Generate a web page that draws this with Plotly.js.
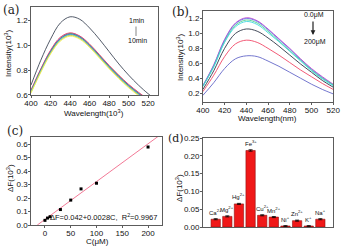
<!DOCTYPE html>
<html><head><meta charset="utf-8">
<script src="https://cdn.plot.ly/plotly-3.0.1.min.js"></script>
<style>html,body{margin:0;padding:0;background:#fff}#c{width:341px;height:246px}</style>
</head><body><div id="c"></div>
<script>
// Panel (a): time series spectra
const wlA = [400,410,420,430,440,450,460,470,480,490,500,510,520,525];
const a1min = [0.68,0.88,1.05,1.18,1.23,1.21,1.14,1.05,0.95,0.85,0.76,0.68,0.61,0.58];
const aCurves = [
  [0.640,0.810,0.960,1.065,1.100,1.075,1.010,0.925,0.838,0.758,0.685,0.622,0.565,0.54],
  [0.635,0.805,0.955,1.060,1.097,1.072,1.006,0.921,0.834,0.754,0.681,0.618,0.561,0.536],
  [0.630,0.800,0.950,1.055,1.093,1.068,1.002,0.917,0.830,0.750,0.677,0.614,0.557,0.532],
  [0.628,0.797,0.946,1.051,1.089,1.064,0.998,0.913,0.826,0.746,0.673,0.610,0.553,0.528],
  [0.625,0.793,0.941,1.046,1.085,1.060,0.994,0.909,0.822,0.742,0.669,0.606,0.549,0.524],
  [0.620,0.788,0.936,1.040,1.080,1.055,0.989,0.904,0.817,0.737,0.664,0.601,0.544,0.519],
  [0.615,0.782,0.930,1.034,1.074,1.049,0.983,0.898,0.811,0.731,0.658,0.595,0.538,0.513]
];
const aColors = ['#e8203a','#d048d0','#30c040','#4848e0','#40d0d0','#c8c840','#f0f060'];

// Panel (b): concentration series spectra
const wlB = [400,410,420,430,440,450,460,470,480,490,500,510,520];
const bCurves = [
  [0.30,0.58,0.92,1.14,1.21,1.17,1.06,0.93,0.80,0.66,0.53,0.42,0.32],
  [0.30,0.57,0.91,1.13,1.20,1.16,1.05,0.92,0.79,0.65,0.52,0.41,0.31],
  [0.29,0.56,0.89,1.11,1.18,1.14,1.03,0.90,0.77,0.64,0.51,0.40,0.31],
  [0.29,0.55,0.88,1.09,1.16,1.12,1.01,0.89,0.76,0.63,0.50,0.39,0.30],
  [0.25,0.50,0.80,1.00,1.06,1.03,0.94,0.83,0.71,0.59,0.48,0.37,0.28],
  [0.22,0.44,0.69,0.86,0.91,0.88,0.80,0.71,0.61,0.51,0.42,0.33,0.25],
  [0.17,0.34,0.53,0.66,0.70,0.69,0.63,0.56,0.48,0.40,0.32,0.25,0.19]
];
const bColors = ['#c040c8','#7070e8','#50d090','#40d8e0','#303848','#f04868','#6468c8'];

// Panel (c): calibration
const cConc = [0,5,10,30,50,70,100,200];
const cDF = [0.035,0.052,0.062,0.115,0.185,0.268,0.31,0.578];
const fitC = [-15,240];
const fitIntercept = 0.042, fitSlope = 0.0028;

// Panel (d): selectivity
const ions = ['Ca<sup>2+</sup>','Mg<sup>2+</sup>','Hg<sup>2+</sup>','Fe<sup>3+</sup>','Cu<sup>2+</sup>','Mn<sup>2+</sup>','Ni<sup>+</sup>','Zn<sup>2+</sup>','K<sup>+</sup>','Na<sup>+</sup>'];
const dDF = [0.022,0.030,0.065,0.215,0.033,0.028,0.003,0.018,0.003,0.022];
const dErr = [0.0015,0.0015,0.0015,0.002,0.0015,0.0015,0.001,0.0015,0.001,0.0015];

const traces = [];
aCurves.forEach((c,i)=>traces.push({x:wlA,y:c,xaxis:'x',yaxis:'y',mode:'lines',line:{color:aColors[i],width:0.9,shape:'spline'}}));
traces.push({x:wlA,y:a1min,xaxis:'x',yaxis:'y',mode:'lines',line:{color:'#404858',width:0.9,shape:'spline'}});
bCurves.forEach((c,i)=>traces.push({x:wlB,y:c,xaxis:'x2',yaxis:'y2',mode:'lines',line:{color:bColors[i],width:0.9,shape:'spline'}}));
traces.push({x:fitC,y:fitC.map(c=>fitIntercept+fitSlope*c),xaxis:'x3',yaxis:'y3',mode:'lines',line:{color:'#f06a8a',width:0.9}});
traces.push({x:cConc,y:cDF,xaxis:'x3',yaxis:'y3',mode:'markers',marker:{color:'#000',size:3,symbol:'square'}});
const idx = ions.map((_,i)=>i);
traces.push({x:idx,y:dDF,xaxis:'x4',yaxis:'y4',type:'bar',width:0.8,marker:{color:'#f01818',line:{color:'#901010',width:0.6}},
  error_y:{type:'data',array:dErr,color:'#000',thickness:0.8,width:2}});

const F = 'Liberation Sans, Arial, sans-serif';
const tf = {family:F,size:8,color:'#111'};
function ax(domain,range,extra){return Object.assign({domain:domain,range:range,showline:true,mirror:true,linecolor:'#333',linewidth:0.8,
  ticks:'outside',ticklen:2,tickwidth:0.8,tickcolor:'#333',ticklabelstandoff:-1,showgrid:false,zeroline:false,tickfont:tf,fixedrange:true},extra||{});}

const ann = [];
function t(x,y,text,opt){ann.push(Object.assign({xref:'paper',yref:'paper',x:x/341,y:1-y/246,text:text,showarrow:false,font:{family:F,size:8,color:'#111'},xanchor:'center',yanchor:'middle'},opt||{}));}
const serif = {family:'DejaVu Serif, Liberation Serif, serif',size:12,color:'#222'};
const small = {family:F,size:7,color:'#111'};
t(11,10,'(a)',{font:serif});
t(180,12,'(b)',{font:serif});
t(15,131,'(c)',{font:serif});
t(176,138,'(d)',{font:{family:'DejaVu Serif, Liberation Serif, serif',size:11,color:'#222'}});
t(8,54,'Intensity(10<sup>3</sup>)',{textangle:-90});
t(180,58,'Intensity(10<sup>3</sup>)',{textangle:-90});
t(10,178,'ΔF(10<sup>3</sup>)',{textangle:-90});
t(179,188,'ΔF(10<sup>3</sup>)',{textangle:-90});
t(94,113,'Wavelength(10<sup>3</sup>)');
t(267,118,'Wavelength(nm)');
t(97,241,'C(μM)');
t(136,21,'1min',{font:small});
t(137,40,'10min',{font:small});
t(314,15,'0.0μM',{font:small});
t(315,42,'200μM',{font:small});
ann.push({xref:'paper',yref:'paper',x:136/341,y:1-36/246,ax:136/341,ay:1-25/246,axref:'paper',ayref:'paper',showarrow:true,arrowhead:0,arrowwidth:0.6,arrowcolor:'#333',text:''});
ann.push({xref:'paper',yref:'paper',x:313/341,y:1-35/246,ax:313/341,ay:1-20/246,axref:'paper',ayref:'paper',showarrow:true,arrowhead:2,arrowsize:0.8,arrowwidth:1.2,arrowcolor:'#222',text:''});
t(103,217,'ΔF=0.042+0.0028C,  R<sup>2</sup>=0.9967',{font:{family:F,size:7.5,color:'#111'}});
ions.forEach((s,i)=>ann.push({xref:'x4',yref:'y4',x:i,y:dDF[i]+dErr[i],text:s,showarrow:false,yanchor:'bottom',yshift:1,font:{family:F,size:6,color:'#111'}}));

const layout = {
  width:341,height:246,margin:{l:0,r:0,t:0,b:0},paper_bgcolor:'#fff',plot_bgcolor:'#fff',showlegend:false,
  xaxis: ax([0.091,0.463],[400,530],{tickvals:[400,420,440,460,480,500,520]}),
  yaxis: ax([0.614,0.972],[0.6,1.31],{tickvals:[0.6,0.8,1.0,1.2],tickformat:'.1f'}),
  xaxis2: ax([0.595,0.977],[400,520],{tickvals:[400,420,440,460,480,500,520],anchor:'y2'}),
  yaxis2: ax([0.585,0.955],[0.08,1.3],{tickvals:[0.2,0.4,0.6,0.8,1.0,1.2],tickformat:'.1f',anchor:'x2'}),
  xaxis3: ax([0.091,0.475],[-27,227],{tickvals:[0,50,100,150,200],anchor:'y3'}),
  yaxis3: ax([0.085,0.443],[0,0.652],{tickvals:[0,0.1,0.2,0.3,0.4,0.5,0.6],tickformat:'.1f',anchor:'x3'}),
  xaxis4: ax([0.595,0.977],[-1.1,10.1],{showticklabels:false,ticks:'',anchor:'y4'}),
  yaxis4: ax([0.077,0.439],[0,0.25],{tickvals:[0,0.05,0.1,0.15,0.2,0.25],tickformat:'.2f',anchor:'x4'}),
  annotations:ann
};
Plotly.newPlot('c',traces,layout,{staticPlot:true,displayModeBar:false});
</script></body></html>
